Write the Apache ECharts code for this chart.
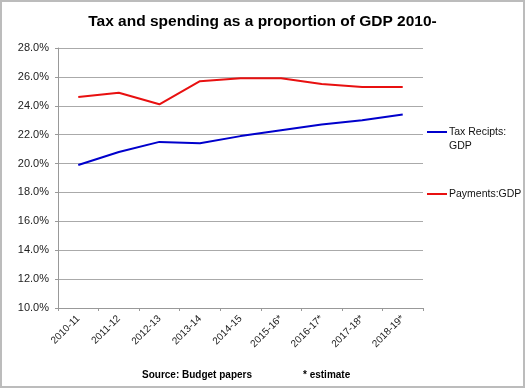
<!DOCTYPE html>
<html><head><meta charset="utf-8">
<script src="https://cdn.jsdelivr.net/npm/echarts@6/dist/echarts.min.js"></script>
<style>html,body{margin:0;padding:0;background:#fff}#c{width:525px;height:388px}</style>
</head><body><div id="c"></div>
<script>
var categories = ['2010-11','2011-12','2012-13','2013-14','2014-15','2015-16*','2016-17*','2017-18*','2018-19*'];
var taxReceipts = [19.9, 20.8, 21.5, 21.4, 21.9, 22.3, 22.7, 23.0, 23.4];
var payments = [24.6, 24.9, 24.1, 25.7, 25.9, 25.9, 25.5, 25.3, 25.3];
var yMin = 10, yMax = 28, yStep = 2;

var font = 'Liberation Sans, Arial, sans-serif';
var chart = echarts.init(document.getElementById('c'));
chart.setOption({
  animation: false,
  title: [
    {text: 'Tax and spending as a proportion of GDP 2010-', left: 'center', top: 9,
     textStyle: {fontFamily: font, fontSize: 15.5, fontWeight: 'bold', color: '#000'}},
    {text: 'Source: Budget papers', left: 137, top: 365,
     textStyle: {fontFamily: font, fontSize: 10, fontWeight: 'bold', color: '#000'}},
    {text: '* estimate', left: 298, top: 365,
     textStyle: {fontFamily: font, fontSize: 10, fontWeight: 'bold', color: '#000'}}
  ],
  graphic: [{type: 'rect', shape: {x: 1, y: 1, width: 523, height: 386},
    style: {fill: 'none', stroke: '#bcbcbc', lineWidth: 2}, silent: true}],
  legend: [
    {left: 427, top: 125, orient: 'vertical', itemWidth: 20, itemHeight: 28, padding: 0,
     data: [{name: 'Tax Recipts: GDP',
       icon: 'path://M0,0 L0.01,0 L0.01,0.01 Z M0,6 H20 V8 H0 Z M0,28 L0.01,28 L0.01,27.99 Z'}],
     formatter: function(){ return 'Tax Recipts:\nGDP'; },
     itemGap: 0,
     textStyle: {fontFamily: font, fontSize: 10.5, lineHeight: 14, color: '#111', padding: [0,0,0,-3]}},
    {left: 427, top: 187, orient: 'vertical', itemWidth: 20, itemHeight: 2, padding: 0,
     data: [{name: 'Payments:GDP', icon: 'rect'}],
     textStyle: {fontFamily: font, fontSize: 10.5, lineHeight: 14, color: '#111', padding: [0,0,0,-3]}}
  ],
  grid: {left: 58, right: 102, top: 48, bottom: 80},
  xAxis: {
    type: 'category', data: categories, boundaryGap: true,
    axisLine: {lineStyle: {color: '#999', width: 1}},
    axisTick: {show: true, length: 3, lineStyle: {color: '#999'}},
    axisLabel: {rotate: 45, fontFamily: font, fontSize: 10, color: '#222', margin: 9}
  },
  yAxis: {
    type: 'value', min: yMin, max: yMax, interval: yStep,
    axisLine: {show: true, lineStyle: {color: '#999'}},
    axisTick: {show: true, length: 3, lineStyle: {color: '#999'}},
    splitLine: {lineStyle: {color: '#aaa', width: 1}},
    axisLabel: {fontFamily: font, fontSize: 11, color: '#222', margin: 9,
      formatter: function(v){ return v.toFixed(1) + '%'; }}
  },
  series: [
    {name: 'Tax Recipts: GDP', type: 'line', data: taxReceipts, symbol: 'none',
     lineStyle: {color: '#0000cc', width: 2}, itemStyle: {color: '#0000cc'}},
    {name: 'Payments:GDP', type: 'line', data: payments, symbol: 'none',
     lineStyle: {color: '#e81010', width: 2}, itemStyle: {color: '#e81010'}}
  ]
});
</script></body></html>
